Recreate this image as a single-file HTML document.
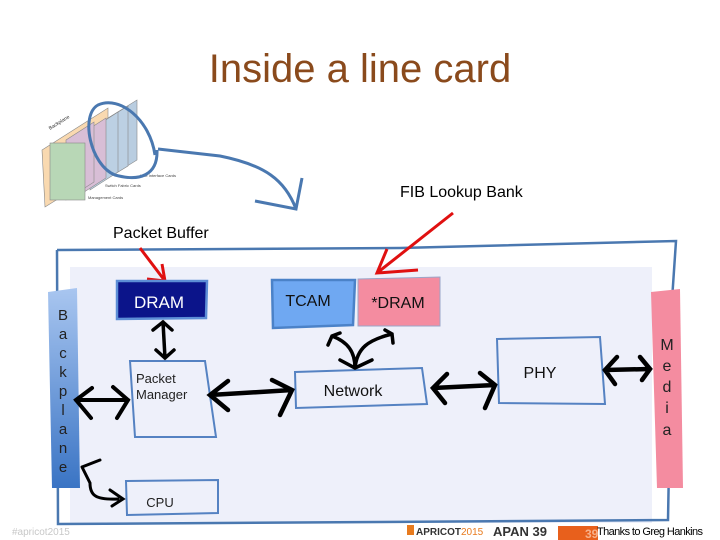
<!DOCTYPE html>
<html><head><meta charset="utf-8"><style>
html,body{margin:0;padding:0;background:#fff;width:720px;height:540px;overflow:hidden}
svg{display:block}
text{font-family:"Liberation Sans",Arial,sans-serif}
</style></head><body>
<svg width="720" height="540" viewBox="0 0 720 540" xmlns="http://www.w3.org/2000/svg">
<defs>
<linearGradient id="bp" x1="0" y1="0" x2="0" y2="1"><stop offset="0" stop-color="#a9c6f0"/><stop offset="1" stop-color="#3a74c4"/></linearGradient>
</defs>
<text x="360" y="82" text-anchor="middle" font-size="40" fill="#8a4a1c">Inside a line card</text>

<polygon points="42,150 108,108 108,168 45,207" fill="#f9d9b0" stroke="#888" stroke-width="0.6"/>
<text x="50" y="130" font-size="5" fill="#333" transform="rotate(-32 50 130)">Backplane</text>
<polygon points="108,118 137,100 137,160 108,178" fill="#b9cde0" stroke="#888" stroke-width="0.6"/>
<polygon points="100,123 128,106 128,166 100,183" fill="#bcd0e3" stroke="#888" stroke-width="0.6"/>
<polygon points="90,130 118,112 118,172 90,190" fill="#bcd0e3" stroke="#888" stroke-width="0.6"/>
<polygon points="78,136 106,118 106,178 78,196" fill="#d8bed6" stroke="#888" stroke-width="0.6"/>
<polygon points="66,140 94,122 94,182 66,200" fill="#d8bed6" stroke="#888" stroke-width="0.6"/>
<rect x="50" y="143" width="35" height="57" fill="#b8d7b6" stroke="#888" stroke-width="0.6"/>
<text x="140" y="177" font-size="4" fill="#444">Line Interface Cards</text>
<text x="105" y="187" font-size="4" fill="#444">Switch Fabric Cards</text>
<text x="88" y="199" font-size="4" fill="#444">Management Cards</text>
<path d="M155,155 C150,120 120,95 98,105 C80,115 90,165 115,175 C140,182 158,175 157,150" fill="none" stroke="#4a78b0" stroke-width="3"/>
<path d="M158,149 L220,156 C265,165 285,180 296,209 M255,201 L296,209 L302,178" fill="none" stroke="#4a78b0" stroke-width="3"/>

<text x="400" y="197" font-size="16" fill="#000">FIB Lookup Bank</text>
<text x="113" y="238" font-size="16" fill="#000">Packet Buffer</text>

<rect x="70" y="267" width="582" height="256" fill="#eef0fa"/>
<path d="M57,250 L400,248 L676,241 L672,300 L668,520 L380,522 L58,524 L57,250" fill="none" stroke="#4a78b0" stroke-width="2.5"/>

<path d="M140,248 L165,281 M147,279 L165,281 L162,264" fill="none" stroke="#e01010" stroke-width="3"/>
<path d="M453,213 L377,273 M387,249 L377,273 L418,270" fill="none" stroke="#e01010" stroke-width="3"/>

<polygon points="48,292 77,288 80,488 52,488" fill="url(#bp)"/>
<g font-size="15" fill="#222" text-anchor="middle">
<text x="63" y="320">B</text><text x="63" y="339">a</text><text x="63" y="358">c</text><text x="63" y="377">k</text><text x="63" y="396">p</text><text x="63" y="415">l</text><text x="63" y="434">a</text><text x="63" y="453">n</text><text x="63" y="472">e</text>
</g>
<polygon points="651,292 680,289 683,488 657,488" fill="#f48ca0"/>
<g font-size="16" fill="#222" text-anchor="middle">
<text x="667" y="350">M</text><text x="667" y="371">e</text><text x="667" y="392">d</text><text x="667" y="413">i</text><text x="667" y="435">a</text>
</g>

<polygon points="117,281 207,281 206,318 117,319" fill="#0b148a" stroke="#5d8ed6" stroke-width="2.5"/>
<text x="159" y="308" font-size="17" fill="#fff" text-anchor="middle">DRAM</text>
<polygon points="272,280 355,280 353,325 273,328" fill="#6fa8f2" stroke="#4b82c8" stroke-width="2.5"/>
<text x="308" y="306" font-size="16" fill="#111" text-anchor="middle">TCAM</text>
<polygon points="358,279 440,277 440,326 358,326" fill="#f48ca0" stroke="#9aa6c8" stroke-width="1"/>
<text x="398" y="308" font-size="16" fill="#111" text-anchor="middle">*DRAM</text>
<polygon points="130,361 205,361 216,437 135,437" fill="#eef0fa" stroke="#5582c2" stroke-width="2"/>
<text x="136" y="383" font-size="13" fill="#222">Packet</text>
<text x="136" y="399" font-size="13" fill="#222">Manager</text>
<polygon points="295,372 422,368 427,404 296,408" fill="#eef0fa" stroke="#5582c2" stroke-width="2"/>
<text x="353" y="396" font-size="16" fill="#111" text-anchor="middle">Network</text>
<polygon points="497,339 600,337 605,404 499,403" fill="#eef0fa" stroke="#5582c2" stroke-width="2"/>
<text x="540" y="378" font-size="16" fill="#111" text-anchor="middle">PHY</text>
<polygon points="126,481 218,480 218,513 127,515" fill="#eef0fa" stroke="#5582c2" stroke-width="2"/>
<text x="160" y="507" font-size="13" fill="#222" text-anchor="middle">CPU</text>

<g fill="none" stroke="#000" stroke-width="3.5" stroke-linecap="round">
<path d="M163,322 L165,358 M153,330 L163,322 L172,330 M156,350 L165,358 L174,350"/>
<path d="M76,400 L128,400 M92,388 L76,400 L91,418 M113,387 L128,400 L117,418" stroke-width="4"/>
<path d="M210,395 L292,390 M228,381 L210,395 L228,410 M272,380 L292,390 L280,415" stroke-width="4.5"/>
<path d="M433,388 L495,385 M447,374 L433,388 L445,403 M480,373 L495,385 L485,408" stroke-width="4.5"/>
<path d="M605,370 L650,369 M617,357 L605,370 L615,384 M640,357 L650,369 L642,380" stroke-width="4.5"/>
<path d="M355,368 C355,352 348,342 332,336 M355,368 C357,348 368,340 392,334 M340,360 L355,368 L372,360 M328,345 L332,336 L340,333 M385,330 L392,334 L393,343"/>
<path d="M82,467 L90,483 C90,495 95,500 118,499 M82,467 L100,460 M110,490 L123,499 L112,506" stroke-width="3"/>
</g>

<text x="12" y="535" font-size="10" fill="#c8c8c8">#apricot2015</text>
<rect x="407" y="525" width="7" height="10" fill="#e87b1e"/>
<text x="416" y="535" font-size="10" font-weight="bold" fill="#333">APRICOT<tspan fill="#e87b1e" font-weight="normal">2015</tspan></text>
<text x="493" y="536" font-size="13" font-weight="bold" fill="#333">APAN 39</text>
<rect x="558" y="526" width="40" height="14" fill="#e8601c"/>
<text x="585" y="538" font-size="12" font-weight="bold" fill="#f7b08a">39</text>
<text x="597" y="535" font-size="11" fill="#000" letter-spacing="-0.6">Thanks to Greg Hankins</text>
</svg>
</body></html>
